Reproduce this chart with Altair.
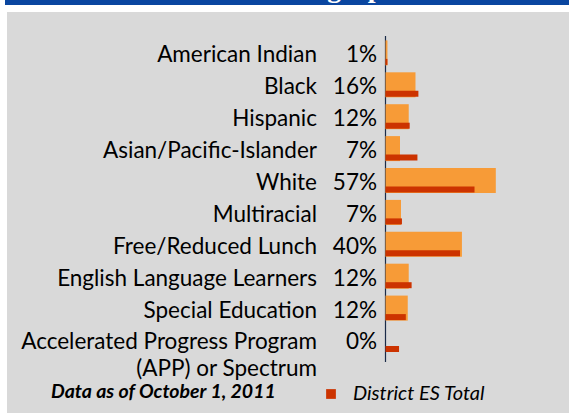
import altair as alt
import pandas as pd

# ---- data ----
categories = [
    "American Indian",
    "Black",
    "Hispanic",
    "Asian/Pacific-Islander",
    "White",
    "Multiracial",
    "Free/Reduced Lunch",
    "English Language Learners",
    "Special Education",
    "Accelerated Progress Program\u00a0",
]
second_line = ["", "", "", "", "", "", "", "", "", "(APP) or Spectrum"]
pct_labels = ["1%", "16%", "12%", "7%", "57%", "7%", "40%", "12%", "12%", "0%"]
school_values = [1, 15.5, 12, 7.5, 57, 8, 39.5, 12, 11.5, 0]
district_values = [1, 17, 12.5, 16.5, 46, 8.5, 38.5, 13.5, 10.5, 7]
series_name = "District ES Total"
footnote = "Data as of October 1, 2011"
title_text = "Student Demographics"

FONT = "Lato"
ORANGE = "#F79B37"
RED = "#CC3300"

df = pd.DataFrame({
    "category": categories,
    "line2": second_line,
    "pct": pct_labels,
    "school": school_values,
    "district": district_values,
    "series": [series_name] * len(categories),
})

yscale = alt.Scale(domain=categories, range=[40.4, 352.5], paddingInner=0.216, paddingOuter=0)
xscale = alt.Scale(domain=[0, 100], range=[385.5, 579])
Y = alt.Y("category:N", sort=categories, scale=yscale, axis=None)

one = pd.DataFrame({"t": [title_text], "f": [footnote], "zero": [0]})

blue_band = alt.Chart(one).mark_rect(color="#0A46A0").encode(
    x=alt.value(5), x2=alt.value(569), y=alt.value(0), y2=alt.value(5)
)
gray_panel = alt.Chart(one).mark_rect(color="#D9D9D9").encode(
    x=alt.value(7), x2=alt.value(569), y=alt.value(12), y2=alt.value(413)
)
title = alt.Chart(one).mark_text(
    font="Liberation Serif", fontWeight="bold", fontSize=28, color="white",
    align="left", baseline="alphabetic"
).encode(x=alt.value(157), y=alt.value(-3), text="t:N")

axis_line = alt.Chart(one).mark_rule(color="#1B2B48", strokeWidth=1.2).encode(
    x=alt.X("zero:Q", scale=xscale, axis=None), y=alt.value(36), y2=alt.value(362)
)

base = alt.Chart(df)

school_bars = base.mark_bar(color=ORANGE).encode(
    x=alt.X("school:Q", scale=xscale, axis=None), y=Y
)

district_bars = base.mark_bar(height=6, yOffset=9).encode(
    x=alt.X("district:Q", scale=xscale, axis=None),
    y=Y,
    color=alt.Color(
        "series:N",
        scale=alt.Scale(domain=[series_name], range=[RED]),
        legend=alt.Legend(
            orient="none", legendX=321, legendY=384, title=None,
            symbolType="square", symbolSize=95, symbolStrokeWidth=0,
            labelFont=FONT, labelFontStyle="italic", labelFontSize=20,
            labelColor="black", labelOffset=12, padding=0,
        ),
    ),
)

cat_text = base.mark_text(
    font=FONT, fontSize=22.5, color="black", align="right", baseline="alphabetic", dy=9.5
).encode(x=alt.value(317), y=Y, text="category:N")

cat_text2 = base.mark_text(
    font=FONT, fontSize=22.5, color="black", align="right", baseline="alphabetic", dy=36.5
).encode(x=alt.value(317), y=Y, text="line2:N")

pct_text = base.mark_text(
    font=FONT, fontSize=22.5, color="black", align="right", baseline="alphabetic", dy=9.5
).encode(x=alt.value(377), y=Y, text="pct:N")

foot = alt.Chart(one).mark_text(
    font=FONT, fontSize=19.5, fontWeight="bold", fontStyle="italic", color="black",
    align="left", baseline="alphabetic"
).encode(x=alt.value(51), y=alt.value(397.5), text="f:N")

chart = alt.layer(
    gray_panel, blue_band, title, axis_line, school_bars, district_bars,
    cat_text, cat_text2, pct_text, foot
).properties(
    width=569, height=413, autosize="none", padding=0, background="white"
).configure_view(stroke=None)

chart.save("out.html", embed_options={"renderer": "svg", "actions": False})
